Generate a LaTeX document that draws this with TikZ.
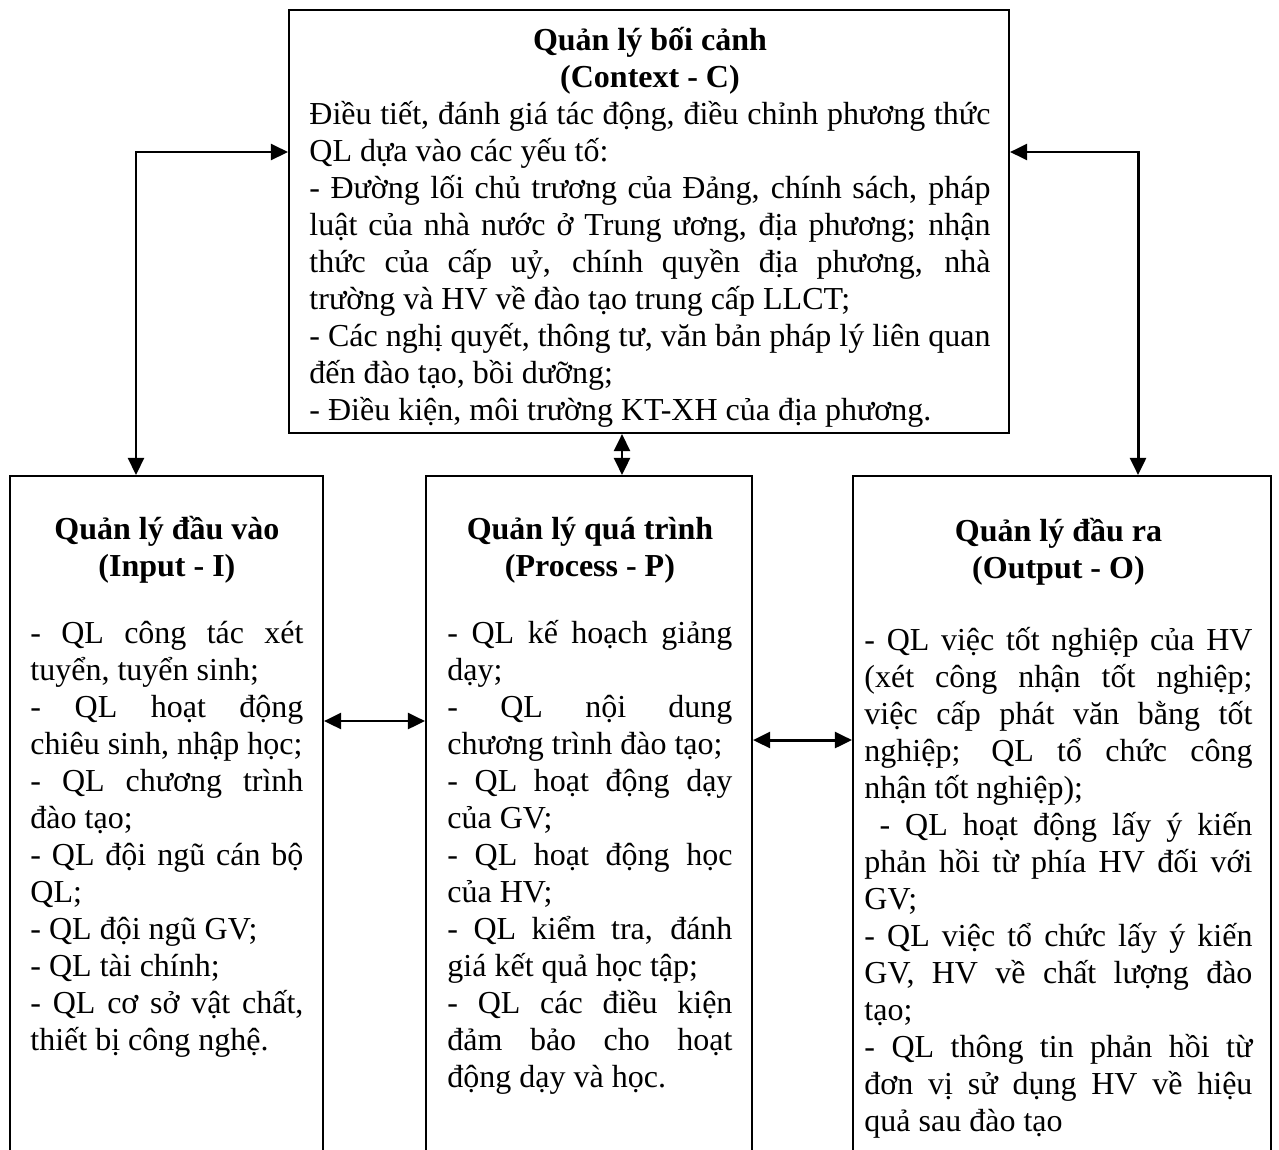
\documentclass[tikz,border=0pt]{standalone}
\usepackage{fontspec}
\setmainfont{Liberation Serif}
\usepackage{tikz}
\usetikzlibrary{positioning,arrows.meta,fit}
\newlength{\px}
\setlength{\px}{0.4375pt}
\hyphenpenalty=10000
\exhyphenpenalty=10000
\tolerance=10000
\hbadness=10000
\hfuzz=20pt

\begin{document}
\begin{tikzpicture}[
    x=0.4375pt, y=-0.4375pt,
    frame/.style={rectangle, draw=black, line width=0.9pt, inner sep=0pt},
    boxtext/.style={anchor=base west, inner sep=0pt, align=justify,
                    font=\fontsize{14}{16.2}\selectfont},
    dblarrow/.style={{Triangle[length=7.5pt, width=7pt]}-{Triangle[length=7.5pt, width=7pt]}, line width=1.3pt},
]
    \useasboundingbox (0,0) rectangle (1279,1149);
    \clip (0,0) rectangle (1279,1149);

    % Context box
    \node[frame, fit={(289,10) (1009,433)}] (ctx) {};
    \node[boxtext, text width=681\px] (ctxtext) at (309,50) {%
        {\centering\bfseries Quản lý bối cảnh\\(Context - C)\par}
        Điều tiết, đánh giá tác động, điều chỉnh phương thức\linebreak QL dựa vào các yếu tố:\par
        - Đường lối chủ trương của Đảng, chính sách, pháp\linebreak luật của nhà nước ở Trung ương, địa phương; nhận\linebreak thức của cấp uỷ, chính quyền địa phương, nhà\linebreak trường và HV về đào tạo trung cấp LLCT;\par
        - Các nghị quyết, thông tư, văn bản pháp lý liên quan\linebreak đến đào tạo, bồi dưỡng;\par
        - Điều kiện, môi trường KT-XH của địa phương.};

    % Input box
    \node[frame, fit={(10,476) (323,1170)}] (inp) {};
    \node[boxtext, text width=273\px] (inptext) at (30,539) {%
        {\centering\bfseries Quản lý đầu vào\\(Input - I)\par}
        \vspace{30\px}
        - QL công tác xét\linebreak tuyển, tuyển sinh;\par
        - QL hoạt động\linebreak chiêu sinh, nhập học;\par
        - QL chương trình\linebreak đào tạo;\par
        - QL đội ngũ cán bộ\linebreak QL;\par
        - QL đội ngũ GV;\par
        - QL tài chính;\par
        - QL cơ sở vật chất,\linebreak thiết bị công nghệ.};

    % Process box
    \node[frame, fit={(426,476) (752,1170)}] (proc) {};
    \node[boxtext, text width=285\px] (proctext) at (447,539) {%
        {\centering\bfseries Quản lý quá trình\\(Process - P)\par}
        \vspace{30\px}
        - QL kế hoạch giảng\linebreak dạy;\par
        - QL nội dung\linebreak \mbox{chương trình đào tạo;}\par
        - QL hoạt động dạy\linebreak của GV;\par
        - QL hoạt động học\linebreak của HV;\par
        - QL kiểm tra, đánh\linebreak giá kết quả học tập;\par
        - QL các điều kiện\linebreak đảm bảo cho hoạt\linebreak động dạy và học.};

    % Output box
    \node[frame, fit={(853,476) (1271,1170)}] (outp) {};
    \node[boxtext, text width=388\px] (outptext) at (864,541) {%
        {\centering\bfseries Quản lý đầu ra\\(Output - O)\par}
        \vspace{35\px}
        - QL việc tốt nghiệp của HV\linebreak (xét công nhận tốt nghiệp;\linebreak việc cấp phát văn bằng tốt\linebreak nghiệp; QL tổ chức công\linebreak nhận tốt nghiệp);\par
        \ - QL hoạt động lấy ý kiến\linebreak phản hồi từ phía HV đối với\linebreak GV;\par
        - QL việc tổ chức lấy ý kiến\linebreak GV, HV về chất lượng đào\linebreak tạo;\par
        - QL thông tin phản hồi từ\linebreak đơn vị sử dụng HV về hiệu\linebreak quả sau đào tạo};

    % Arrows
    \coordinate (cl) at (136,152);
    \coordinate (cr) at (1138,152);
    \coordinate (cm) at (622,0);
    \draw[dblarrow] (ctx.west |- cl) -| (inp.north -| cl);
    \draw[dblarrow] (ctx.east |- cr) -| (outp.north -| cr);
    \draw[dblarrow] (ctx.south -| cm) -- (proc.north -| cm);
    \draw[dblarrow] (inp.east |- 0,721) -- (proc.west |- 0,721);
    \draw[dblarrow] (proc.east |- 0,740) -- (outp.west |- 0,740);
\end{tikzpicture}
\end{document}
